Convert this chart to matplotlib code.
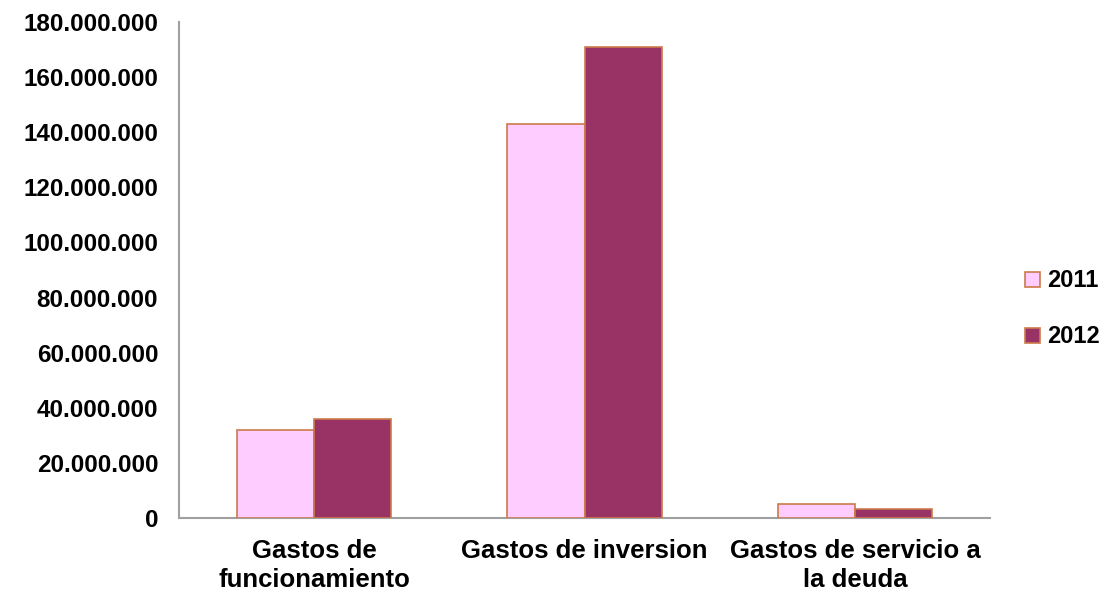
import matplotlib
matplotlib.use("Agg")
import matplotlib.pyplot as plt
from matplotlib.ticker import FuncFormatter
import numpy as np

# Datos
categorias = ["Gastos de\nfuncionamiento", "Gastos de inversion", "Gastos de servicio a\nla deuda"]
valores_2011 = [32000000, 143000000, 5100000]
valores_2012 = [36000000, 171000000, 3300000]
anios = ["2011", "2012"]
ticks_y = list(range(0, 180000001, 20000000))

plt.rcParams['font.family'] = ['Liberation Sans', 'DejaVu Sans']

fig = plt.figure(figsize=(11.05, 5.94), dpi=100)
ax = fig.add_axes([0.162, 0.128, 0.734, 0.835])

x = np.arange(len(categorias))
ancho = 0.285
b1 = ax.bar(x - ancho / 2, valores_2011, ancho, color='#FFCCFF', edgecolor='#CC7A4A',
            linewidth=1.2, label=anios[0], zorder=3)
b2 = ax.bar(x + ancho / 2, valores_2012, ancho, color='#993366', edgecolor='#CC7A4A',
            linewidth=1.2, label=anios[1], zorder=3)

ax.set_xlim(-0.5, 2.5)
ax.set_ylim(0, 180000000)
ax.set_yticks(ticks_y)
ax.yaxis.set_major_formatter(FuncFormatter(lambda v, p: f"{int(v):,}".replace(",", ".")))
ax.set_xticks(x)
ax.set_xticklabels(categorias, fontsize=18.5, fontweight='bold', linespacing=1.25)
for lbl in ax.get_yticklabels():
    lbl.set_fontsize(17.5)
    lbl.set_fontweight('bold')

ax.tick_params(axis='both', length=0)
ax.tick_params(axis='x', pad=15)
ax.tick_params(axis='y', pad=15)

for lado in ['top', 'right']:
    ax.spines[lado].set_visible(False)
for lado in ['left', 'bottom']:
    ax.spines[lado].set_color('#A0A0A0')
    ax.spines[lado].set_linewidth(1.5)

leg = fig.legend(handles=[b1, b2], loc='center left', bbox_to_anchor=(0.928, 0.48),
                 frameon=False, prop={'size': 17, 'weight': 'bold'}, handlelength=0.6,
                 handleheight=0.6, handletextpad=0.3, labelspacing=1.4,
                 borderaxespad=0, borderpad=0)

fig.savefig("out.png", dpi=100)
